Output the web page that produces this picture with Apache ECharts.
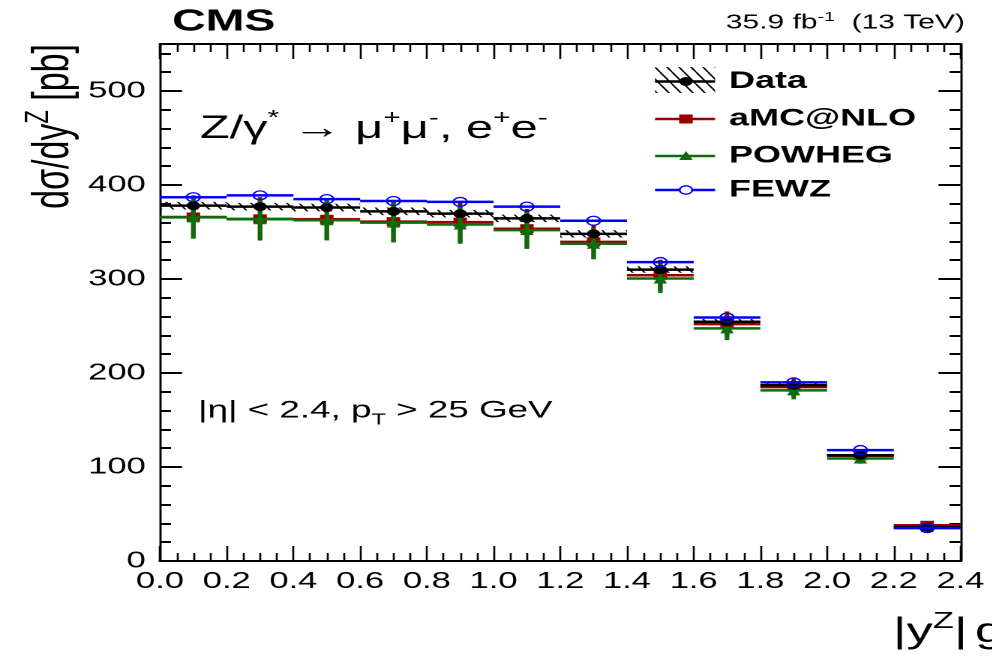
<!DOCTYPE html>
<html>
<head>
<meta charset="utf-8">
<script src="https://cdn.jsdelivr.net/npm/echarts@6/dist/echarts.min.js"></script>
<style>
html,body{margin:0;padding:0;background:#fff;overflow:hidden;}
#wrap{width:992px;height:657px;overflow:hidden;position:relative;}
#main{width:661.333px;height:657px;transform:scaleX(1.5);transform-origin:0 0;position:absolute;left:0;top:0;}
</style>
</head>
<body>
<div id="wrap"><div id="main"></div></div>
<script>
// ---- data ----
const binLow  = [0.0, 0.2, 0.4, 0.6, 0.8, 1.0, 1.2, 1.4, 1.6, 1.8, 2.0, 2.2];
const binHigh = [0.2, 0.4, 0.6, 0.8, 1.0, 1.2, 1.4, 1.6, 1.8, 2.0, 2.2, 2.4];
const dataVals   = [378, 377, 376, 372, 369.5, 364.5, 348, 310, 254.5, 187, 112.5, 36];
const dataUnc    = [4, 4, 4, 4, 4, 4, 3.8, 3.4, 2.8, 2.1, 1.3, 0.5];
const amcVals    = [366, 364, 363.5, 361, 360.5, 353.5, 339.5, 304, 252, 185, 112, 38];
const amcErr     = [23, 23, 22, 22, 21.5, 21, 18, 16.5, 13.5, 10, 6, 2.5];
const powhegVals = [365.5, 363.5, 362.5, 360, 358, 352, 337.5, 300.5, 247.5, 181.5, 109, 36];
const powhegErr  = [22.5, 21.5, 21.5, 21, 20.5, 20, 16.5, 15.5, 12.5, 9.5, 5.5, 2];
const fewzVals   = [387, 389, 385, 383, 382, 377, 362, 318, 259, 190, 118, 35];
const fewzErr    = [1, 1, 1, 1, 1, 1, 1, 1, 1, 1, 1, 1];
const xTickLabels = ['0.0','0.2','0.4','0.6','0.8','1.0','1.2','1.4','1.6','1.8','2.0','2.2','2.4'];
const legendNames = ['Data', 'aMC@NLO', 'POWHEG', 'FEWZ'];

const FONT = '"Liberation Sans", Arial, Helvetica, sans-serif';
const RED = '#990000', GREEN = '#0a6e0a', BLUE = '#0000ff', BLACK = '#000000';

// hatch pattern tile
const tile = document.createElement('canvas');
tile.width = 16; tile.height = 24;
(function(){
  const c = tile.getContext('2d');
  c.strokeStyle = '#000'; c.lineWidth = 2.4;
  [[-16,0],[0,0],[16,0]].forEach(function(o){
    c.beginPath(); c.moveTo(o[0], o[1]); c.lineTo(o[0]+16, o[1]+24); c.stroke();
  });
})();
const hatch = {image: tile, repeat: 'repeat', scaleX: 0.5, scaleY: 0.5};

function rows(vals, errs){
  return vals.map(function(v, i){ return [binLow[i], binHigh[i], v, errs[i]]; });
}
function centers(vals){
  return vals.map(function(v, i){ return [(binLow[i] + binHigh[i]) / 2, v]; });
}

function binRenderer(color, lw, ew, withErr){
  return function(params, api){
    const lo = api.value(0), hi = api.value(1), v = api.value(2), e = api.value(3);
    const a = api.coord([lo, v]), b = api.coord([hi, v]);
    const mid = (lo + hi) / 2;
    const c = api.coord([mid, v + e]), d = api.coord([mid, v - e]);
    const ch = [{type:'line', shape:{x1:a[0], y1:a[1], x2:b[0], y2:b[1]}, style:{stroke:color, lineWidth:lw}}];
    if (withErr) ch.push({type:'line', shape:{x1:c[0], y1:c[1], x2:d[0], y2:d[1]}, style:{stroke:color, lineWidth:ew}});
    return {type:'group', children: ch};
  };
}
function bandRenderer(params, api){
  const lo = api.value(0), hi = api.value(1), v = api.value(2), e = api.value(3);
  const p1 = api.coord([lo, v + e]), p2 = api.coord([hi, v - e]);
  return {type:'rect', shape:{x:p1[0], y:p1[1], width:p2[0]-p1[0], height:p2[1]-p1[1]}, style:{fill:hatch}};
}

const chart = echarts.init(document.getElementById('main'), null, {renderer:'canvas', devicePixelRatio: 2});

const axisLbl = {color:'#000', fontSize:23, fontFamily:FONT};
function xAx(pos, showLabel){
  return {type:'value', position:pos, min:0, max:2.4, interval:0.2,
    axisLine:{show:true, onZero:false, lineStyle:{color:'#000', width:2}},
    axisTick:{show:true, inside:true, length:15, lineStyle:{color:'#000', width:1.3}},
    minorTick:{show:true, splitNumber:4, length:8, lineStyle:{color:'#000', width:1.3}},
    splitLine:{show:false}, minorSplitLine:{show:false},
    axisLabel:{show:showLabel, margin:9, formatter:function(v){ return xTickLabels[Math.round(v/0.2)] || ''; }, ...axisLbl}
  };
}
function yAx(pos, major, showLabel){
  return {type:'value', position:pos, min:0, max:550, interval: major ? 100 : 20,
    axisLine:{show:major, onZero:false, lineStyle:{color:'#000', width:1.5}},
    axisTick:{show:true, inside:true, length: major ? 14.7 : 7.3, lineStyle:{color:'#000', width:2}},
    splitLine:{show:false},
    axisLabel:{show:showLabel, margin:9.5, showMaxLabel:false, ...axisLbl}
  };
}

const option = {
  backgroundColor:'#fff',
  animation:false,
  grid:{left:106.667, right:20.667, top:44, bottom:96, outerBoundsMode:'none', containLabel:false},
  xAxis:[xAx('bottom', true), xAx('top', false)],
  yAxis:[yAx('left', true, true), yAx('left', false, false), yAx('right', true, false), yAx('right', false, false)],
  series:[
    {name:'band', type:'custom', renderItem:bandRenderer, data:rows(dataVals, dataUnc), z:2, silent:true},
    {name:'aMC@NLO lines', type:'custom', renderItem:binRenderer(RED, 2.5, 3, true), data:rows(amcVals, amcErr), z:3},
    {name:'aMC@NLO', type:'scatter', symbol:'rect', symbolSize:9, itemStyle:{color:RED, opacity:1}, data:centers(amcVals), z:4},
    {name:'POWHEG lines', type:'custom', renderItem:binRenderer(GREEN, 2.5, 3, true), data:rows(powhegVals, powhegErr), z:5},
    {name:'POWHEG', type:'scatter', symbol:'triangle', symbolSize:[9,10], itemStyle:{color:GREEN, opacity:1}, data:centers(powhegVals), z:6},
    {name:'Data lines', type:'custom', renderItem:binRenderer(BLACK, 2.5, 2, false), data:rows(dataVals, dataUnc), z:7},
    {name:'Data', type:'scatter', symbol:'circle', symbolSize:9, itemStyle:{color:BLACK, opacity:1}, data:centers(dataVals), z:8},
    {name:'FEWZ lines', type:'custom', renderItem:binRenderer(BLUE, 2.5, 1.5, true), data:rows(fewzVals, fewzErr), z:9},
    {name:'FEWZ', type:'scatter', symbol:'circle', symbolSize:9, itemStyle:{color:'rgba(0,0,0,0)', borderColor:BLUE, borderWidth:1.3, opacity:1}, data:centers(fewzVals), z:10}
  ],
  graphic:[
    {type:'text', x:114.7, y:22, z:20, style:{text:'CMS', fontFamily:FONT, fontSize:31, fontWeight:'bold', fill:'#000', align:'left', verticalAlign:'middle'}},
    {type:'text', x:643.3, y:22, z:20, style:{text:'{a|35.9 fb}{s|-1}{a|  (13 TeV)}', align:'right', verticalAlign:'middle',
      rich:{a:{fontFamily:FONT, fontSize:20, fill:'#000', lineHeight:22, verticalAlign:'bottom'}, s:{fontFamily:FONT, fontSize:13, fill:'#000', verticalAlign:'top', lineHeight:22}}}},
    {type:'text', x:34, y:44, rotation:Math.PI/2, z:20, style:{text:'{a|dσ/dy}{s|Z}{a| [pb]}', align:'right', verticalAlign:'middle',
      rich:{a:{fontFamily:FONT, fontSize:34, fill:'#000', lineHeight:38, verticalAlign:'bottom'}, s:{fontFamily:FONT, fontSize:22, fill:'#000', lineHeight:38, verticalAlign:'top'}}}},
    {type:'text', x:595.3, y:630, z:20, style:{text:'{a||y}{s|Z}{a||}{g|g}', align:'left', verticalAlign:'middle',
      rich:{a:{fontFamily:FONT, fontSize:35, fill:'#000', lineHeight:40, verticalAlign:'bottom'}, s:{fontFamily:FONT, fontSize:23, fill:'#000', lineHeight:40, verticalAlign:'top'},
            g:{fontFamily:FONT, fontSize:35, fill:'#000', lineHeight:40, verticalAlign:'bottom', padding:[0,0,0,5]}}}},
    {type:'text', x:133.3, y:127, z:20, style:{text:'{a|Z/γ}{s|*}{a| → μ}{s|+}{a|μ}{s|-}{a|, e}{s|+}{a|e}{s|-}', align:'left', verticalAlign:'middle',
      rich:{a:{fontFamily:FONT, fontSize:32.5, fill:'#000', lineHeight:37, verticalAlign:'bottom'}, s:{fontFamily:FONT, fontSize:20, fill:'#000', lineHeight:37, verticalAlign:'top'}}}},
    {type:'text', x:132, y:413, z:20, style:{text:'{a||η| < 2.4, p}{b|T}{a| > 25 GeV}', align:'left', verticalAlign:'middle',
      rich:{a:{fontFamily:FONT, fontSize:24.5, fill:'#000', lineHeight:30, verticalAlign:'top'}, b:{fontFamily:FONT, fontSize:16, fill:'#000', lineHeight:30, verticalAlign:'bottom'}}}},
    // legend
    {type:'rect', z:20, shape:{x:436.7, y:67, width:40, height:26}, style:{fill:hatch}},
    {type:'line', z:21, shape:{x1:436.7, y1:81.5, x2:476.7, y2:81.5}, style:{stroke:BLACK, lineWidth:2.5}},
    {type:'circle', z:22, shape:{cx:457.3, cy:81.5, r:4.5}, style:{fill:BLACK}},
    {type:'line', z:21, shape:{x1:436.7, y1:119, x2:476.7, y2:119}, style:{stroke:RED, lineWidth:2.5}},
    {type:'rect', z:22, shape:{x:452.8, y:114.5, width:9, height:9}, style:{fill:RED}},
    {type:'line', z:21, shape:{x1:436.7, y1:156, x2:476.7, y2:156}, style:{stroke:GREEN, lineWidth:2.5}},
    {type:'polygon', z:22, shape:{points:[[457.3,151],[461.8,160],[452.8,160]]}, style:{fill:GREEN}},
    {type:'line', z:21, shape:{x1:436.7, y1:190, x2:476.7, y2:190}, style:{stroke:BLUE, lineWidth:2.5}},
    {type:'circle', z:22, shape:{cx:457.3, cy:190, r:4.2}, style:{fill:'#fff', stroke:BLUE, lineWidth:1.3}},
    {type:'text', z:20, x:486, y:81.5, style:{text:legendNames[0], fontFamily:FONT, fontSize:24, fontWeight:'bold', fill:'#000', verticalAlign:'middle'}},
    {type:'text', z:20, x:486, y:119, style:{text:legendNames[1], fontFamily:FONT, fontSize:24, fontWeight:'bold', fill:'#000', verticalAlign:'middle'}},
    {type:'text', z:20, x:486, y:156, style:{text:legendNames[2], fontFamily:FONT, fontSize:24, fontWeight:'bold', fill:'#000', verticalAlign:'middle'}},
    {type:'text', z:20, x:486, y:190, style:{text:legendNames[3], fontFamily:FONT, fontSize:24, fontWeight:'bold', fill:'#000', verticalAlign:'middle'}}
  ]
};
chart.setOption(option);
</script>
</body>
</html>
